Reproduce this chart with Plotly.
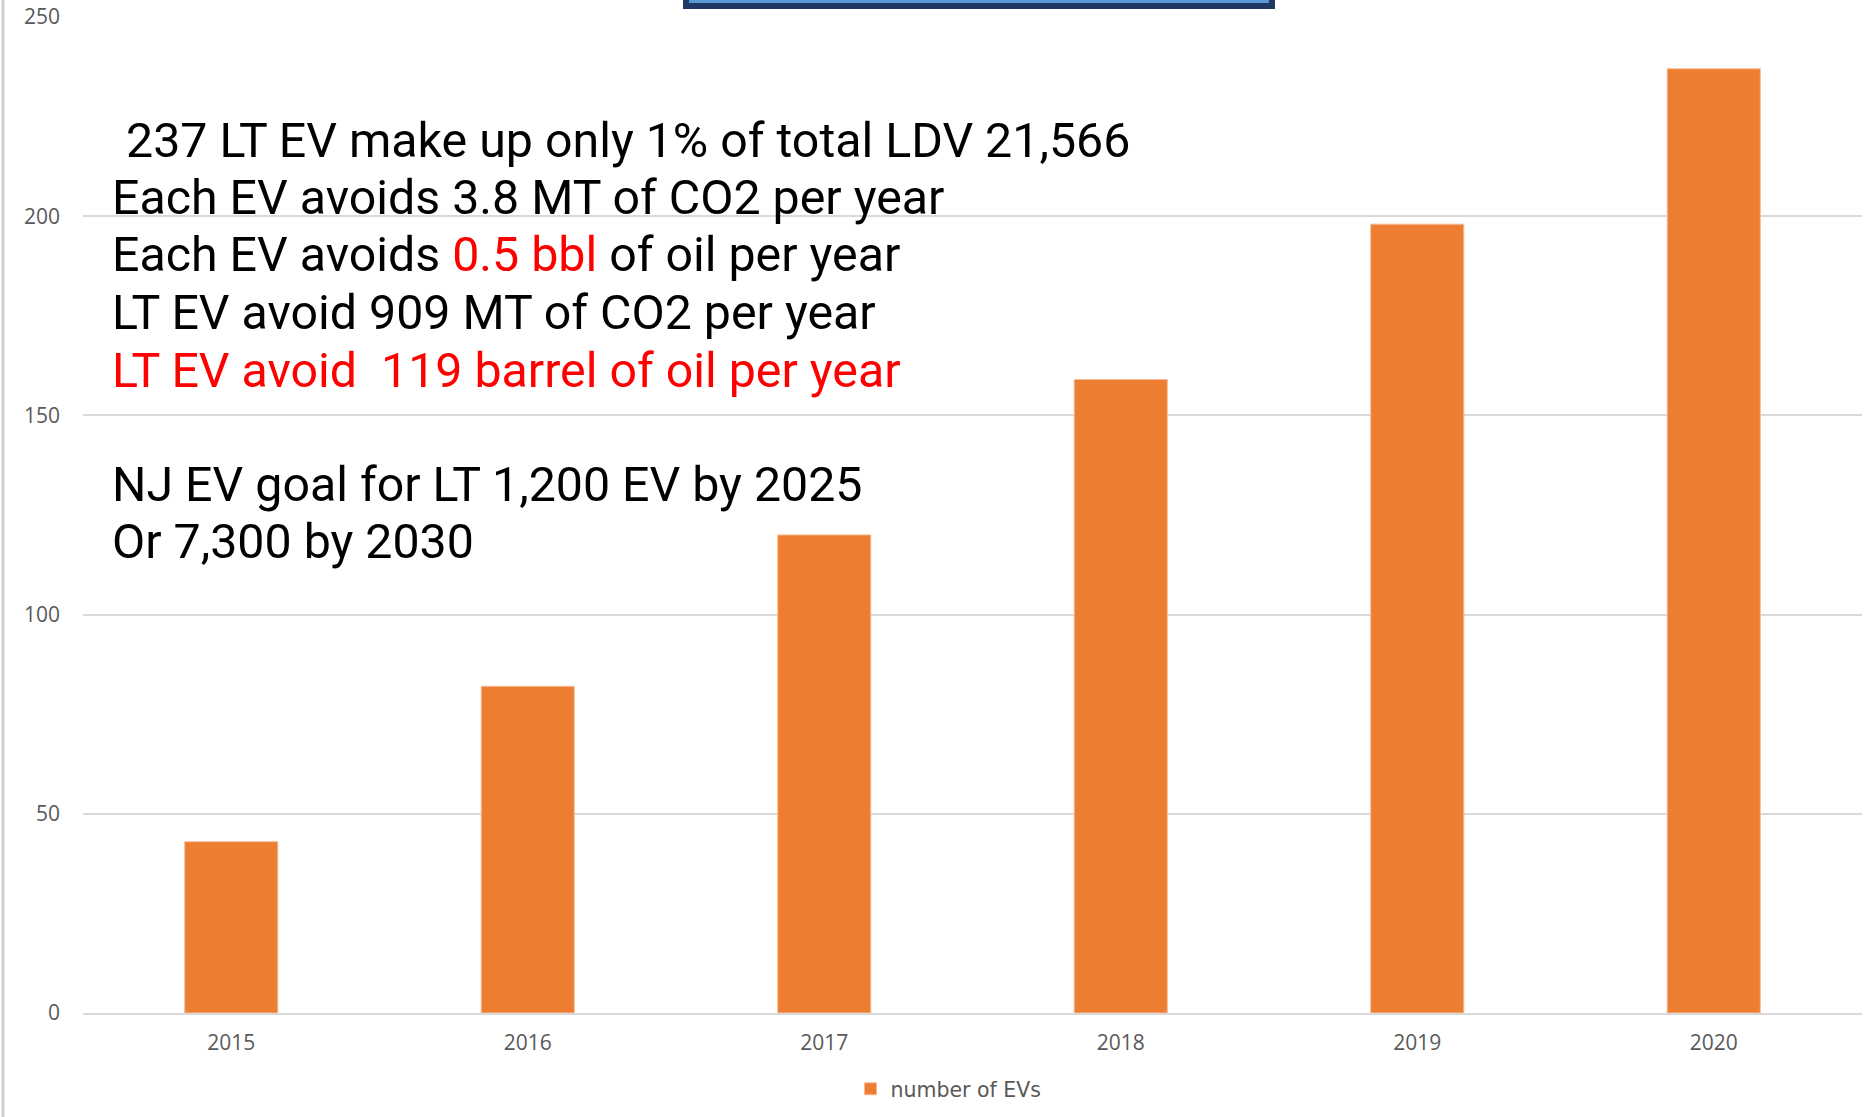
import plotly.graph_objects as go

# ---- data ----
years = ["2015", "2016", "2017", "2018", "2019", "2020"]
ev_counts = [43, 82, 120, 159, 198, 237]
series_name = "number of EVs"
y_ticks = [0, 50, 100, 150, 200, 250]

note_lines = [
    "237 LT EV make up only 1% of total LDV 21,566",
    "Each EV avoids 3.8 MT of CO2 per year",
    "Each EV avoids <span style='color:#ff0000'>0.5 bbl</span> of oil per year",
    "LT EV avoid 909 MT of CO2 per year",
    "<span style='color:#ff0000'>LT EV avoid  119 barrel of oil per year</span>",
    "NJ EV goal for LT 1,200 EV by 2025",
    "Or 7,300 by 2030",
]

W, H = 1870, 1117
L, R, T, B = 83, 8, 16.5, 104
plot_w = W - L - R
plot_h = H - T - B


def px_x(x):
    return (x - L) / plot_w


def px_y(y):
    return (H - B - y) / plot_h


fig = go.Figure()
fig.add_trace(go.Bar(
    x=years, y=ev_counts, name=series_name,
    marker=dict(color="#ed7d31", line=dict(color="#f6bd97", width=1)),
    showlegend=True,
))

# annotation layout (pixel positions of line centers)
line_x = [124, 110, 110, 110, 110, 110, 110]
line_y = [140, 197, 254, 312.5, 370, 484, 541.5]
annotations = []
for txt, lx, ly in zip(note_lines, line_x, line_y):
    annotations.append(dict(
        text=txt, xref="paper", yref="paper", x=px_x(lx), y=px_y(ly),
        xanchor="left", yanchor="middle", showarrow=False,
        font=dict(family="Roboto", size=48.3, color="#000000"),
    ))

shapes = [
    # cut-off title box at the top
    dict(type="rect", xref="paper", yref="paper",
         x0=px_x(686), x1=px_x(1272), y0=px_y(5.5), y1=px_y(-20),
         line=dict(color="#1f3864", width=6), fillcolor="#5b9bd5", layer="above"),
    # page border on the left
    dict(type="line", xref="paper", yref="paper",
         x0=px_x(3), x1=px_x(3), y0=px_y(H + 5), y1=px_y(-5),
         line=dict(color="#d0d0d0", width=3)),
]

fig.update_layout(
    width=W, height=H,
    margin=dict(l=L, r=R, t=T, b=B, pad=0, autoexpand=False),
    paper_bgcolor="#ffffff", plot_bgcolor="#ffffff",
    bargap=0.686,
    annotations=annotations,
    shapes=shapes,
    legend=dict(orientation="h", x=px_x(948.5), xanchor="center",
                y=px_y(1089), yanchor="middle",
                font=dict(family="DejaVu Sans", size=20.5, color="#595959"),
                itemwidth=30),
    xaxis=dict(showgrid=False, showline=True, linecolor="#d9d9d9", linewidth=1.5,
               ticks="", tickfont=dict(family="Open Sans", size=21, color="#595959"),
               ticklabelstandoff=10, fixedrange=True, automargin=False),
    yaxis=dict(range=[0, 250], tickvals=y_ticks, showgrid=True, gridcolor="#d9d9d9",
               gridwidth=1.5, zeroline=False, showline=False, ticks="",
               tickfont=dict(family="Open Sans", size=21, color="#595959"),
               ticklabelstandoff=22, fixedrange=True, automargin=False),
)

fig.write_html("out.html", config={"displayModeBar": False},
               post_script="document.body.style.margin='0px';")
